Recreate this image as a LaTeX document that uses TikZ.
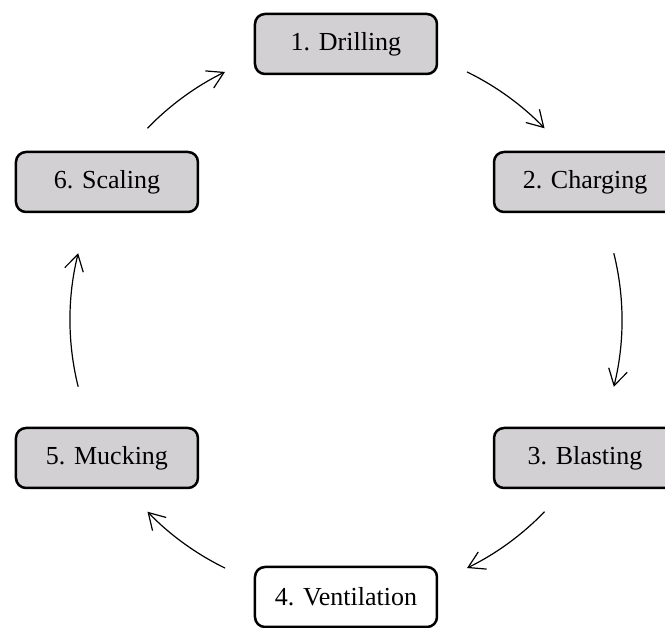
\documentclass[tikz,border=0pt]{standalone}
\usepackage{fontspec}
\setmainfont{Liberation Serif}
\usetikzlibrary{arrows.meta}
\definecolor{boxgray}{RGB}{210,208,210}
\tikzset{
  stage/.style={draw=black, line width=2.5pt, rounded corners=10pt, fill=boxgray,
    minimum width=182pt, minimum height=60pt, inner sep=0pt,
    font=\fontsize{26}{30}\selectfont},
  stagewhite/.style={stage, fill=white},
  cyc/.style={line width=1.2pt, -{Straight Barb[length=16pt,width=19pt,line width=1.2pt]}}
}
\begin{document}
\begin{tikzpicture}[x=1pt,y=1pt]
\useasboundingbox (-346,-308) rectangle (319,320);
\clip (-346,-308) rectangle (319,320);
\coordinate (O) at (0,0);
\node[stage] (n1) at (90:276pt) {1. Drilling};
\node[stage] (n2) at (30:276pt) {2. Charging};
\node[stage] (n3) at (-30:276pt) {3. Blasting};
\node[stagewhite] (n4) at (-90:277pt) {4. Ventilation};
\node[stage] (n5) at (210:276pt) {5. Mucking};
\node[stage] (n6) at (150:276pt) {6. Scaling};
\coordinate (a12) at (64:276pt);
\coordinate (a23) at (14:276pt);
\coordinate (a34) at (-44:276pt);
\coordinate (a45) at (-116:276pt);
\coordinate (a56) at (194:276pt);
\coordinate (a61) at (136:276pt);
\draw[cyc] (a12) arc[start angle=64, end angle=44, radius=276pt];
\draw[cyc] (a23) arc[start angle=14, end angle=-14, radius=276pt];
\draw[cyc] (a34) arc[start angle=-44, end angle=-64, radius=276pt];
\draw[cyc] (a45) arc[start angle=-116, end angle=-136, radius=276pt];
\draw[cyc] (a56) arc[start angle=194, end angle=166, radius=276pt];
\draw[cyc] (a61) arc[start angle=136, end angle=116, radius=276pt];
\end{tikzpicture}
\end{document}
